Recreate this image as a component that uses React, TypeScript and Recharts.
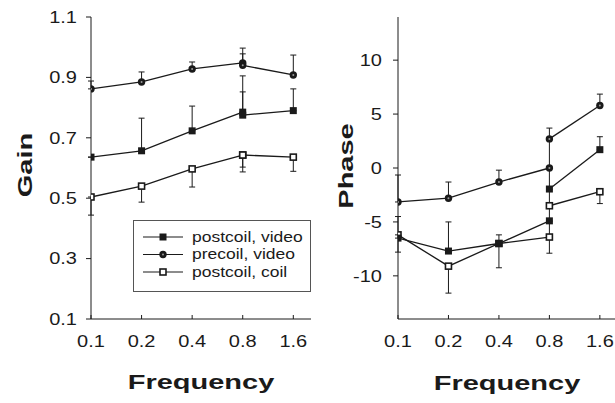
import { ScatterChart, Scatter, XAxis, YAxis, ErrorBar } from "recharts";

const FREQ_LABELS = ["0.1", "0.2", "0.4", "0.8", "1.6"];
const FREQ_TICKS = [0, 1, 2, 3, 4];
const LEGEND_LABELS = ["postcoil, video", "precoil, video", "postcoil, coil"];
const GAIN_TICKS = [0.1, 0.3, 0.5, 0.7, 0.9, 1.1];
const PHASE_TICKS = [-10, -5, 0, 5, 10];

// each condition was run twice: 0.1-0.8 ("low") and 0.8-1.6 ("high")
// errors are [below, above]
const GAIN_POST_VIDEO_LOW = [0.636, 0.657, 0.723, 0.785];
const GAIN_POST_VIDEO_LOW_ERR = [[0, 0], [0, 0.108], [0, 0.082], [0, 0.12]];
const GAIN_POST_VIDEO_HIGH = [0.775, 0.79];
const GAIN_POST_VIDEO_HIGH_ERR = [[0, 0.077], [0, 0.072]];
const GAIN_PRE_VIDEO_LOW = [0.862, 0.885, 0.928, 0.948];
const GAIN_PRE_VIDEO_LOW_ERR = [[0, 0.026], [0, 0.033], [0, 0.023], [0, 0.03]];
const GAIN_PRE_VIDEO_HIGH = [0.94, 0.908];
const GAIN_PRE_VIDEO_HIGH_ERR = [[0, 0.057], [0, 0.066]];
const GAIN_POST_COIL_LOW = [0.504, 0.54, 0.597, 0.643];
const GAIN_POST_COIL_LOW_ERR = [[0.06, 0], [0.053, 0], [0.06, 0], [0.04, 0]];
const GAIN_POST_COIL_HIGH = [0.643, 0.636];
const GAIN_POST_COIL_HIGH_ERR = [[0.056, 0], [0.047, 0]];

const PHASE_POST_VIDEO_LOW = [-6.5, -7.7, -7.0, -4.9];
const PHASE_POST_VIDEO_LOW_ERR = [[0, 2.0], [0, 2.7], [0, 0.8], [1.5, 0]];
const PHASE_POST_VIDEO_HIGH = [-1.95, 1.7];
const PHASE_POST_VIDEO_HIGH_ERR = [[3.0, 0], [0, 1.2]];
const PHASE_PRE_VIDEO_LOW = [-3.15, -2.8, -1.3, 0.0];
const PHASE_PRE_VIDEO_LOW_ERR = [[0, 2.5], [0, 1.5], [0, 1.1], [2.0, 0]];
const PHASE_PRE_VIDEO_HIGH = [2.7, 5.8];
const PHASE_PRE_VIDEO_HIGH_ERR = [[2.7, 1.0], [0, 1.05]];
const PHASE_POST_COIL_LOW = [-6.2, -9.1, -7.0, -6.4];
const PHASE_POST_COIL_LOW_ERR = [[1.6, 0], [2.5, 0], [2.25, 0], [1.5, 0]];
const PHASE_POST_COIL_HIGH = [-3.5, -2.2];
const PHASE_POST_COIL_HIGH_ERR = [[0, 0], [1.1, 0]];

const INK = "#1a1a1a";
const FONT = "'Liberation Sans', Arial, sans-serif";

type Marker = "filledSquare" | "circle" | "openSquare";

const toPoints = (values: number[], errs: number[][], start: number) =>
  values.map((y, i) => ({ x: start + i, y, err: errs[i] }));

const gainSegments = [
  { key: "gpc", marker: "openSquare", data: toPoints(GAIN_POST_COIL_LOW, GAIN_POST_COIL_LOW_ERR, 0) },
  { key: "gpc2", marker: "openSquare", data: toPoints(GAIN_POST_COIL_HIGH, GAIN_POST_COIL_HIGH_ERR, 3) },
  { key: "gpv", marker: "filledSquare", data: toPoints(GAIN_POST_VIDEO_LOW, GAIN_POST_VIDEO_LOW_ERR, 0) },
  { key: "gpv2", marker: "filledSquare", data: toPoints(GAIN_POST_VIDEO_HIGH, GAIN_POST_VIDEO_HIGH_ERR, 3) },
  { key: "gpr", marker: "circle", data: toPoints(GAIN_PRE_VIDEO_LOW, GAIN_PRE_VIDEO_LOW_ERR, 0) },
  { key: "gpr2", marker: "circle", data: toPoints(GAIN_PRE_VIDEO_HIGH, GAIN_PRE_VIDEO_HIGH_ERR, 3) },
];

const phaseSegments = [
  { key: "ppc", marker: "openSquare", data: toPoints(PHASE_POST_COIL_LOW, PHASE_POST_COIL_LOW_ERR, 0) },
  { key: "ppc2", marker: "openSquare", data: toPoints(PHASE_POST_COIL_HIGH, PHASE_POST_COIL_HIGH_ERR, 3) },
  { key: "ppv", marker: "filledSquare", data: toPoints(PHASE_POST_VIDEO_LOW, PHASE_POST_VIDEO_LOW_ERR, 0) },
  { key: "ppv2", marker: "filledSquare", data: toPoints(PHASE_POST_VIDEO_HIGH, PHASE_POST_VIDEO_HIGH_ERR, 3) },
  { key: "ppr", marker: "circle", data: toPoints(PHASE_PRE_VIDEO_LOW, PHASE_PRE_VIDEO_LOW_ERR, 0) },
  { key: "ppr2", marker: "circle", data: toPoints(PHASE_PRE_VIDEO_HIGH, PHASE_PRE_VIDEO_HIGH_ERR, 3) },
];

const LEGEND_MARKERS: Marker[] = ["filledSquare", "circle", "openSquare"];

function MarkerShape({ kind, cx, cy }: { kind: Marker; cx: number; cy: number }) {
  if (kind === "circle") {
    return (
      <g>
        <circle cx={cx} cy={cy} r={3.7} fill={INK} />
        <circle cx={cx} cy={cy} r={1} fill="#999" />
      </g>
    );
  }
  if (kind === "filledSquare") {
    return <rect x={cx - 3.5} y={cy - 3.5} width={7} height={7} fill={INK} />;
  }
  return (
    <rect x={cx - 3} y={cy - 3} width={6} height={6} fill="#fff" stroke={INK} strokeWidth={1.6} />
  );
}

const XTick = (props: any) => {
  const { x, y, payload } = props;
  return (
    <g>
      <line x1={x} x2={x} y1={y} y2={y - 4} stroke={INK} />
      <text
        transform={`translate(${x},${y + 28}) scale(1.25,1)`}
        textAnchor="middle"
        fontSize={16}
        fontFamily={FONT}
        fill={INK}
      >
        {FREQ_LABELS[payload.value]}
      </text>
    </g>
  );
};

const makeYTick = (fmt: (v: number) => string) => (props: any) => {
  const { x, y, payload } = props;
  return (
    <text
      transform={`translate(${x},${y}) scale(1.25,1)`}
      textAnchor="end"
      dy="0.36em"
      fontSize={16}
      fontFamily={FONT}
      fill={INK}
    >
      {fmt(payload.value)}
    </text>
  );
};

function Panel({
  segments,
  domain,
  ticks,
  xMax,
  width,
  marginLeft,
  tickMargin,
  fmt,
}: {
  segments: { key: string; marker: string; data: any[] }[];
  domain: [number, number];
  ticks: number[];
  xMax: number;
  width: number;
  marginLeft: number;
  tickMargin: number;
  fmt: (v: number) => string;
}) {
  return (
    <ScatterChart width={width} height={403} margin={{ top: 17, right: 0, bottom: 54, left: marginLeft }}>
      <XAxis
        type="number"
        dataKey="x"
        domain={[0, xMax]}
        ticks={FREQ_TICKS}
        allowDataOverflow
        height={30}
        tickSize={0}
        tickMargin={0}
        tickLine={false}
        axisLine={{ stroke: INK }}
        tick={<XTick />}
      />
      <YAxis
        type="number"
        dataKey="y"
        domain={domain}
        ticks={ticks}
        allowDataOverflow
        width={60}
        tickSize={5}
        tickMargin={tickMargin}
        tickLine={{ stroke: INK }}
        axisLine={{ stroke: INK }}
        tick={makeYTick(fmt)}
      />
      {segments.map((s) => (
        <Scatter
          key={s.key}
          data={s.data}
          fill={INK}
          line={{ stroke: INK, strokeWidth: 1.3 }}
          isAnimationActive={false}
          shape={(p: any) => <MarkerShape kind={s.marker as Marker} cx={p.cx} cy={p.cy} />}
        >
          <ErrorBar dataKey="err" direction="y" width={3} stroke={INK} strokeWidth={1} />
        </Scatter>
      ))}
    </ScatterChart>
  );
}

const titleStyle = {
  position: "absolute" as const,
  fontFamily: FONT,
  fontWeight: 700,
  fontSize: 21,
  lineHeight: "21px",
  color: INK,
  whiteSpace: "nowrap" as const,
};

export default function App() {
  return (
    <div style={{ position: "absolute", left: 0, top: 0, width: 615, height: 403, background: "#fff" }}>
      <div style={{ position: "absolute", left: 0, top: 0 }}>
        <Panel
          segments={gainSegments}
          domain={[0.1, 1.1]}
          ticks={GAIN_TICKS}
          xMax={4.35}
          width={311}
          marginLeft={31}
          tickMargin={9}
          fmt={(v) => v.toFixed(1)}
        />
      </div>
      <div style={{ position: "absolute", left: 310, top: 0 }}>
        <Panel
          segments={phaseSegments}
          domain={[-14, 14]}
          ticks={PHASE_TICKS}
          xMax={4.3}
          width={305}
          marginLeft={28}
          tickMargin={11}
          fmt={(v) => String(v)}
        />
      </div>

      {/* legend box inside the gain panel */}
      <div
        style={{
          position: "absolute",
          left: 133,
          top: 220,
          width: 176,
          height: 70,
          border: "1px solid #555",
          background: "#fff",
        }}
      >
        <svg width={176} height={70}>
          {LEGEND_LABELS.map((label, i) => {
            const y = 16 + i * 17.5;
            return (
              <g key={label}>
                <line x1={9} x2={49} y1={y} y2={y} stroke={INK} strokeWidth={1.2} />
                <MarkerShape kind={LEGEND_MARKERS[i]} cx={29} cy={y} />
                <text
                  transform={`translate(58,${y}) scale(1.25,1)`}
                  dy="0.35em"
                  fontSize={14}
                  fontFamily={FONT}
                  fill={INK}
                >
                  {label}
                </text>
              </g>
            );
          })}
        </svg>
      </div>

      <div style={{ ...titleStyle, left: 24, top: 165, transform: "translate(-50%,-50%) rotate(-90deg) scaleX(1.38)" }}>
        Gain
      </div>
      <div style={{ ...titleStyle, left: 345, top: 166, transform: "translate(-50%,-50%) rotate(-90deg) scaleX(1.38)" }}>
        Phase
      </div>
      <div style={{ ...titleStyle, left: 201, top: 381, transform: "translate(-50%,-50%) scaleX(1.38)" }}>
        Frequency
      </div>
      <div style={{ ...titleStyle, left: 507, top: 382, transform: "translate(-50%,-50%) scaleX(1.38)" }}>
        Frequency
      </div>
    </div>
  );
}
